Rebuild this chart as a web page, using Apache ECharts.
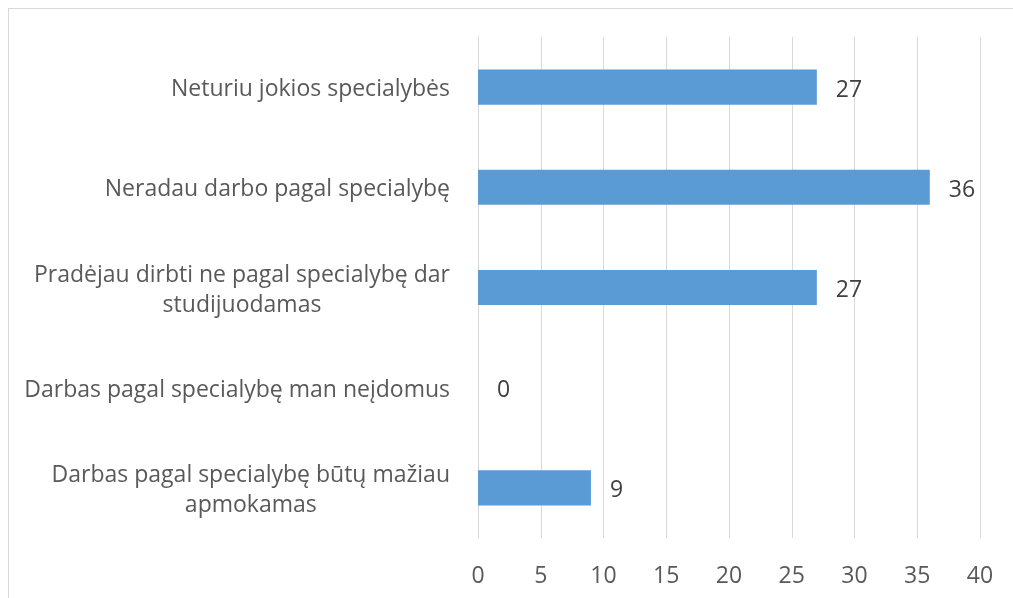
<!DOCTYPE html>
<html><head><meta charset="utf-8">
<script src="https://cdn.jsdelivr.net/npm/echarts@6/dist/echarts.min.js"></script>
<style>
html,body{margin:0;padding:0;background:#fff;overflow:hidden}
#frame{position:absolute;left:8px;top:8px;width:1100px;height:700px;border:1px solid #d9d9d9;box-sizing:border-box}
#c{position:absolute;left:0;top:0;width:1013px;height:598px}
</style></head>
<body>
<div id="frame"></div>
<div id="c"></div>
<script>
const categories = [
  "Neturiu jokios specialybės",
  "Neradau darbo pagal specialybę",
  "Pradėjau dirbti ne pagal specialybę dar\nstudijuodamas",
  "Darbas pagal specialybę man neįdomus",
  "Darbas pagal specialybę būtų mažiau\napmokamas"
];
const values = [27, 36, 27, 0, 9];
const xTicks = [0, 5, 10, 15, 20, 25, 30, 35, 40];

const FONT = 'Open Sans';
const FS = 23;
const chart = echarts.init(document.getElementById('c'), null, {renderer: 'canvas'});
chart.setOption({
  animation: false,
  backgroundColor: 'transparent',
  grid: {left: 478, right: 33, top: 37, bottom: 60, containLabel: false},
  xAxis: {
    type: 'value', min: xTicks[0], max: xTicks[xTicks.length - 1], interval: 5,
    axisLine: {show: false}, axisTick: {show: false},
    splitLine: {show: true, lineStyle: {color: '#d9d9d9', width: 1}},
    axisLabel: {color: '#595959', fontSize: FS, fontFamily: FONT, margin: 27}
  },
  yAxis: {
    type: 'category', data: categories, inverse: true,
    axisLine: {show: true, lineStyle: {color: '#d9d9d9', width: 1}},
    axisTick: {show: false},
    axisLabel: {
      color: '#595959', fontSize: FS, fontFamily: FONT, margin: 28, lineHeight: 30,
      padding: [5, 0, 0, 0],
      formatter: function (v) {
        return v.split('\n').map(s => '{c|' + s + '}').join('\n');
      },
      rich: {c: {align: 'center', color: '#595959', fontSize: FS, fontFamily: FONT, lineHeight: 30}}
    }
  },
  series: [{
    type: 'bar', data: values, barCategoryGap: '65%',
    itemStyle: {color: '#5b9bd5'},
    label: {show: true, position: 'right', distance: 19, offset: [0, 3], color: '#404040', fontSize: FS, fontFamily: FONT}
  }]
});
</script>
</body></html>
